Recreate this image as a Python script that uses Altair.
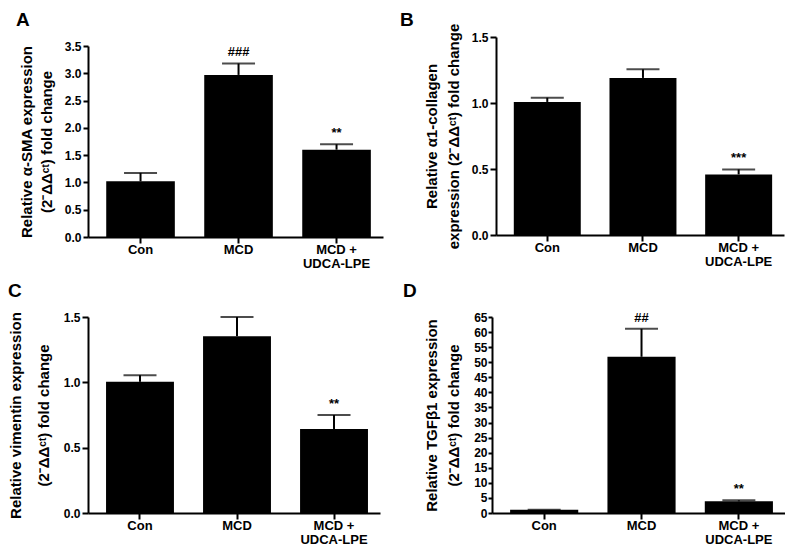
import altair as alt
import pandas as pd

categories = ["Con", "MCD", "MCD + UDCA-LPE"]

a_values = [1.02, 2.97, 1.60]
a_upper = [1.175, 3.18, 1.70]
a_marks = ["", "###", "**"]

b_values = [1.008, 1.19, 0.459]
b_upper = [1.04, 1.255, 0.497]
b_marks = ["", "", "***"]

c_values = [1.004, 1.353, 0.643]
c_upper = [1.055, 1.50, 0.75]
c_marks = ["", "", "**"]

d_values = [1.1, 51.8, 3.86]
d_upper = [1.1, 61.1, 4.2]
d_marks = ["", "##", "**"]

a_ticks = [0.0, 0.5, 1.0, 1.5, 2.0, 2.5, 3.0, 3.5]
b_ticks = [0.0, 0.5, 1.0, 1.5]
c_ticks = [0.0, 0.5, 1.0, 1.5]
d_ticks = list(range(0, 70, 5))

SUP = "(2\u207b\u0394\u0394\u1d9c\u1d57)"
a_title = ["Relative \u03b1-SMA expression", SUP + " fold change"]
b_title = ["Relative \u03b11-collagen", "expression " + SUP + " fold change"]
c_title = ["Relative vimentin expression", SUP + " fold change"]
d_title = ["Relative TGF\u03b21 expression", SUP + " fold change"]

FONT = "Liberation Sans"


def panel(letter, values, upper, marks, ticks, ymax, fmt, ytitle, w, h, yrange,
          lx, ly, tpad, tlh, tsize, lpad):
    df = pd.DataFrame({"cat": categories, "val": values, "upper": upper, "mark": marks})
    x = alt.X(
        "cat:N",
        sort=categories,
        title=None,
        scale=alt.Scale(paddingInner=0.3, paddingOuter=0.155, align=0.6),
        axis=alt.Axis(
            labelAngle=0,
            labelExpr="datum.label == 'MCD + UDCA-LPE' ? ['MCD +', 'UDCA-LPE'] : datum.label",
            labelFontSize=13,
            labelPadding=0,
            labelLineHeight=14,
            tickSize=6,
        ),
    )
    if yrange is None:
        yscale = alt.Scale(domain=[0, ymax], nice=False, zero=True)
    else:
        yscale = alt.Scale(domain=[0, ymax], nice=False, zero=True, range=yrange)
    yaxis = alt.Axis(
        values=ticks,
        format=fmt,
        title=ytitle,
        titlePadding=tpad,
        titleLineHeight=tlh,
        labelFontSize=12,
        labelOverlap=False,
        labelBound=False,
        labelPadding=lpad,
        tickSize=tsize,
    )
    base = alt.Chart(df).encode(x=x)
    bars = base.mark_bar(color="black").encode(
        y=alt.Y("val:Q", scale=yscale, axis=yaxis)
    )
    err = base.mark_rule(color="black", strokeWidth=2).encode(
        y=alt.Y("val:Q", scale=yscale, axis=yaxis), y2="upper:Q"
    )
    cap = base.mark_tick(color="black", size=33, thickness=2).encode(
        y=alt.Y("upper:Q", scale=yscale, axis=yaxis)
    )
    txt = base.mark_text(
        dy=-4, fontSize=13, fontWeight="bold", font=FONT, color="black", baseline="bottom"
    ).encode(y=alt.Y("upper:Q", scale=yscale, axis=yaxis), text="mark:N")
    lab = alt.Chart(pd.DataFrame({"t": [letter]})).mark_text(
        fontSize=19, fontWeight="bold", font=FONT, color="black",
        align="left", baseline="top",
    ).encode(x=alt.value(lx), y=alt.value(ly), text="t:N")
    return alt.layer(bars, err, cap, txt, lab).properties(width=w, height=h)


pa = panel("A", a_values, a_upper, a_marks, a_ticks, 3.5, ".1f", a_title,
           295, 200, [200, 9], -72, -26, 10, 20, 5, 2)
pb = panel("B", b_values, b_upper, b_marks, b_ticks, 1.5, ".1f", b_title,
           288, 198, None, -96, -26, 10, 22, 6, 2)
pc = panel("C", c_values, c_upper, c_marks, c_ticks, 1.5, ".1f", c_title,
           292, 196, None, -80, -35, 12, 28, 6, 2)
pd_ = panel("D", d_values, d_upper, d_marks, d_ticks, 65, "d", d_title,
            293, 196, None, -89, -35, 12, 22, 4, 1)

row1 = alt.hconcat(pa, pb, spacing=17)
row2 = alt.hconcat(pc, pd_, spacing=23)

chart = (
    alt.vconcat(row1, row2, spacing=12)
    .properties(padding={"left": 0, "top": 3, "right": 0, "bottom": 0})
    .configure(font=FONT)
    .configure_view(stroke=None)
    .configure_axis(
        domainColor="black",
        domainWidth=2,
        tickColor="black",
        tickWidth=2,
        grid=False,
        labelColor="black",
        labelFont=FONT,
        labelFontWeight="bold",
        titleFont=FONT,
        titleFontWeight="bold",
        titleFontSize=15,
        titleColor="black",
    )
    .configure_axisY(labelOverlap=False)
)

chart.save("out.html", embed_options={"renderer": "svg", "actions": False})
